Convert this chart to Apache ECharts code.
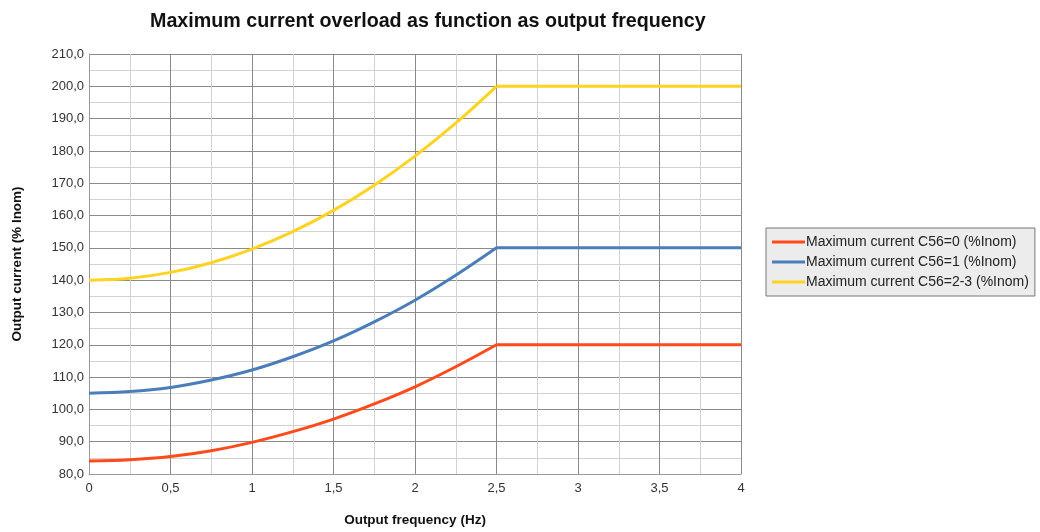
<!DOCTYPE html>
<html><head><meta charset="utf-8">
<script src="https://cdn.jsdelivr.net/npm/echarts@6/dist/echarts.min.js"></script>
<style>html,body{margin:0;padding:0;background:#fff}#c{width:1040px;height:532px}</style>
</head><body><div id="c"></div>
<script>
var freq = [0, 0.25, 0.5, 0.75, 1, 1.25, 1.5, 1.75, 2, 2.25, 2.5, 3, 3.5, 4];
var c56_0 = [84, 84.4, 85.4, 87.2, 89.8, 93.1, 97.0, 101.7, 107.0, 113.2, 120, 120, 120, 120];
var c56_1 = [105, 105.5, 106.8, 109.1, 112.2, 116.3, 121.2, 127.1, 133.8, 141.5, 150, 150, 150, 150];
var c56_23 = [140, 140.6, 142.4, 145.4, 149.6, 155.0, 161.6, 169.4, 178.4, 188.6, 200, 200, 200, 200];
var seriesNames = ['Maximum current C56=0 (%Inom)', 'Maximum current C56=1 (%Inom)', 'Maximum current C56=2-3 (%Inom)'];
var colors = ['#ff4a1c', '#4a7ebb', '#ffd320'];
var kneeFreq = 2.5;

function pairs(ys, from, to){
  var out = [];
  freq.forEach(function(x,i){ if (x >= from && x <= to) out.push([x, ys[i]]); });
  return out;
}
var font = 'Liberation Sans, Arial, sans-serif';
var chart = echarts.init(document.getElementById('c'), null, {renderer:'canvas'});
function mkSeries(name, ys, col){
  return [
    {name:name, type:'line', data:pairs(ys, 0, kneeFreq), smooth:0.35, showSymbol:false, symbol:'none',
      lineStyle:{color:col, width:3}, itemStyle:{color:col}, z:5},
    {name:name, type:'line', data:pairs(ys, kneeFreq, 4), smooth:false, showSymbol:false, symbol:'none',
      lineStyle:{color:col, width:3}, itemStyle:{color:col}, z:5}
  ];
}
chart.setOption({
  animation:false,
  title:{text:'Maximum current overload as function as output frequency', left:145, top:7,
    textStyle:{fontFamily:font, fontSize:19.7, fontWeight:'bold', color:'#111'}},
  grid:{left:89, right:299, top:54, bottom:55, containLabel:false},
  legend:{orient:'vertical', left:766, top:228, width:271, padding:[7,6,7,6], itemGap:6,
    backgroundColor:'#ececec', borderColor:'#777', borderWidth:1, borderRadius:0,
    itemWidth:33, itemHeight:3, icon:'rect',
    textStyle:{fontFamily:font, fontSize:14, color:'#222', padding:[0,0,0,-4]},
    data:seriesNames},
  xAxis:{type:'value', min:0, max:4, interval:0.5,
    name:'Output frequency (Hz)', nameLocation:'middle', nameGap:39,
    nameTextStyle:{fontFamily:font, fontSize:13.5, fontWeight:'bold', color:'#111'},
    axisLine:{show:true, lineStyle:{color:'#999', width:1}},
    axisTick:{show:false},
    axisLabel:{fontFamily:font, fontSize:13, color:'#333', margin:8,
      formatter:function(v){ return String(v).replace('.', ','); }},
    splitLine:{show:true, lineStyle:{color:'#8a8a8a', width:1}},
    minorTick:{show:false, splitNumber:2},
    minorSplitLine:{show:true, lineStyle:{color:'#d2d2d2', width:1}}},
  yAxis:{type:'value', min:80, max:210, interval:10,
    name:'Output current (% Inom)', nameLocation:'middle', nameGap:65, nameRotate:90,
    nameTextStyle:{fontFamily:font, fontSize:13.5, fontWeight:'bold', color:'#111'},
    axisLine:{show:true, lineStyle:{color:'#999', width:1}},
    axisTick:{show:false},
    axisLabel:{fontFamily:font, fontSize:13, color:'#333', margin:5,
      formatter:function(v){ return v.toFixed(1).replace('.', ','); }},
    splitLine:{show:true, lineStyle:{color:'#8a8a8a', width:1}},
    minorTick:{show:false, splitNumber:2},
    minorSplitLine:{show:true, lineStyle:{color:'#d2d2d2', width:1}}},
  series:[].concat(mkSeries(seriesNames[0], c56_0, colors[0]), mkSeries(seriesNames[1], c56_1, colors[1]), mkSeries(seriesNames[2], c56_23, colors[2]))
});
</script></body></html>
